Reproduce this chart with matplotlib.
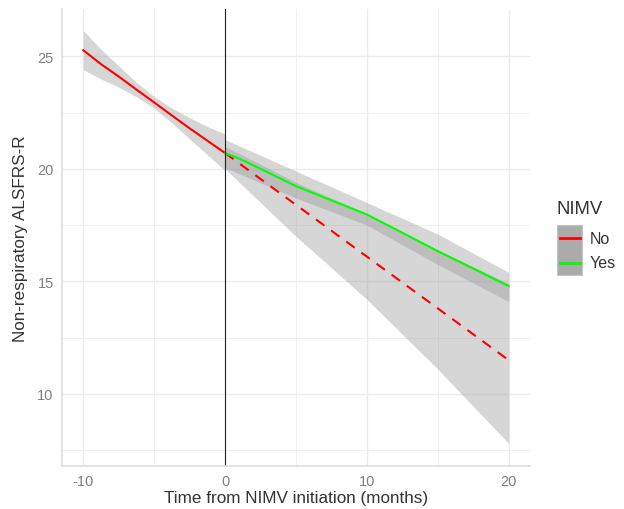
import numpy as np
import matplotlib.pyplot as plt
from matplotlib.lines import Line2D

plt.rcParams['font.family'] = ['Liberation Sans', 'DejaVu Sans']
plt.rcParams['axes.unicode_minus'] = False

# before NIMV initiation (all patients, "No" colour)
pre_x = [-10, -8.75, -7.5, -6.25, -5, -3.75, -2.5, -1.25, 0]
pre_y = [25.27, 24.65, 24.1, 23.52, 22.95, 22.37, 21.8, 21.25, 20.7]
pre_lo = [24.40, 23.99, 23.63, 23.20, 22.69, 22.04, 21.33, 20.62, 19.92]
pre_hi = [26.14, 25.31, 24.57, 23.84, 23.21, 22.70, 22.27, 21.88, 21.55]

# after initiation, no NIMV (projected)
no_x = [0, 5, 10, 15, 20]
no_y = [20.7, 18.4, 16.1, 13.8, 11.5]
no_lo = [20.0, 17.0, 14.2, 11.1, 7.8]
no_hi = [21.0, 19.4, 18.0, 16.4, 14.9]

# after initiation, NIMV
yes_x = [0, 1, 2.5, 5, 7.5, 10, 12.5, 15, 17.5, 20]
yes_y = [20.7, 20.45, 20.0, 19.23, 18.6, 17.97, 17.16, 16.34, 15.57, 14.79]
yes_band_x = [0, 5, 10, 15, 20]
yes_lo = [20.05, 18.7, 17.5, 15.75, 14.1]
yes_hi = [21.3, 19.9, 18.5, 17.1, 15.4]

groups = ['No', 'Yes']
group_colors = ['#FF0000', '#00FF00']

fig = plt.figure(figsize=(6.24, 5.1), dpi=100)
ax = fig.add_axes([62 / 624, 1 - 467 / 510, 468 / 624, 457 / 510])

band = dict(color='#999999', alpha=0.4, linewidth=0)
ax.fill_between(pre_x, pre_lo, pre_hi, **band)
ax.fill_between(no_x, no_lo, no_hi, **band)
ax.fill_between(yes_band_x, yes_lo, yes_hi, **band)

ax.plot(pre_x, pre_y, color=group_colors[0], lw=1.5)
ax.plot(no_x, no_y, color=group_colors[0], lw=1.5, dashes=(5, 4))
ax.plot(yes_x, yes_y, color=group_colors[1], lw=1.5)
ax.axvline(0, color='#222222', lw=0.8)

ax.set_xlim(-11.5, 21.5)
ax.set_ylim(6.8, 27.1)
ax.set_xticks([-10, 0, 10, 20])
ax.set_xticks([-5, 5, 15], minor=True)
ax.set_yticks([10, 15, 20, 25])
ax.set_yticks([7.5, 12.5, 17.5, 22.5], minor=True)
ax.grid(which='major', color='#EBEBEB', lw=1.0)
ax.grid(which='minor', color='#F0F0F0', lw=0.7)
ax.set_axisbelow(True)
ax.tick_params(which='both', length=0, labelsize=10.5, labelcolor='#7F7F7F', pad=6)
for s in ['top', 'right']:
    ax.spines[s].set_visible(False)
for s in ['left', 'bottom']:
    ax.spines[s].set_color('#DDDDDD')
    ax.spines[s].set_linewidth(1.2)

ax.set_xlabel('Time from NIMV initiation (months)', fontsize=12.3, color='#333333', labelpad=1)
ax.set_ylabel('Non-respiratory ALSFRS-R', fontsize=12.3, color='#333333', labelpad=7)

# legend drawn by hand, ggplot style
W, H = 624, 510
fig.patches.append(plt.Rectangle((557 / W, 1 - 276 / H), 25 / W, 50 / H,
                                 transform=fig.transFigure, facecolor='#ABABAB',
                                 edgecolor='#C4C4C4', lw=0.8))
fig.text(556 / W, 1 - 210 / H, 'NIMV', fontsize=13.3, color='#333333', va='center', ha='left')
for i, (g, c) in enumerate(zip(groups, group_colors)):
    yy = 1 - (239 + 25 * i) / H
    fig.add_artist(Line2D([560 / W, 580 / W], [yy, yy], color=c, lw=2, transform=fig.transFigure))
    fig.text(590 / W, yy, g, fontsize=11.5, color='#333333', va='center', ha='left')

fig.savefig('out.png', dpi=100)
